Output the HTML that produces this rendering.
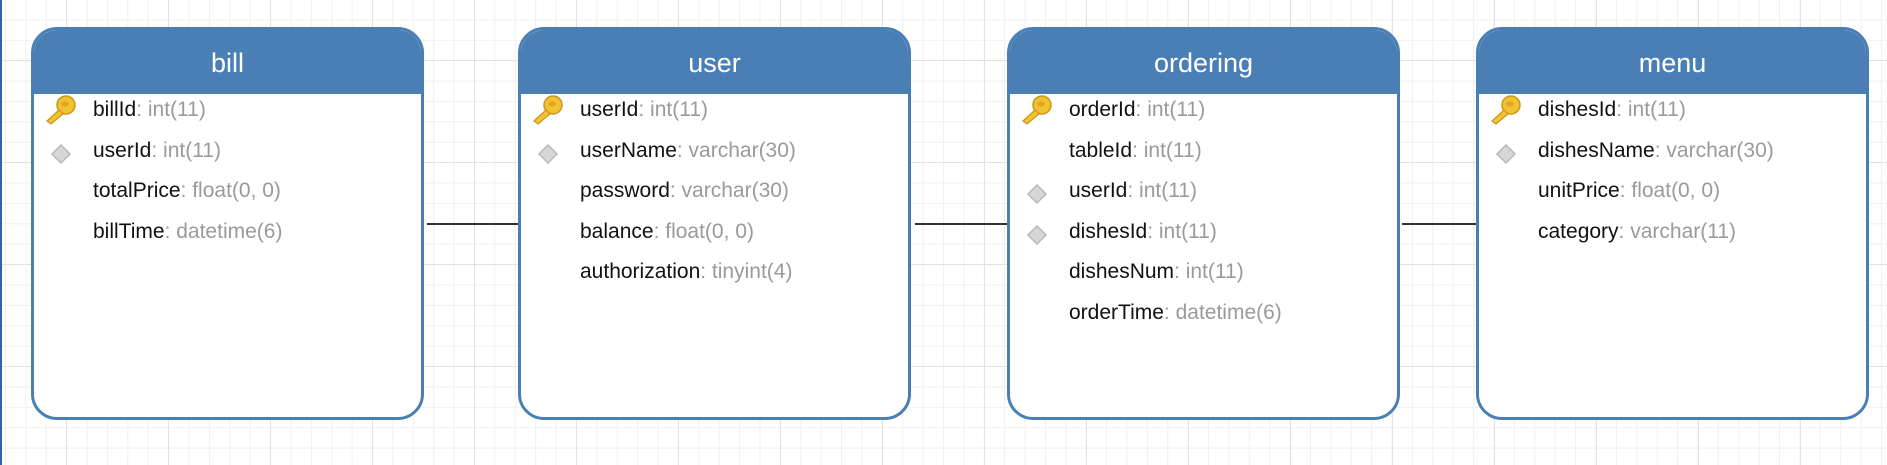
<!DOCTYPE html>
<html><head><meta charset="utf-8"><style>
html,body{margin:0;padding:0}
body{width:1887px;height:465px;position:relative;overflow:hidden;background-color:#fff;
background-image:
linear-gradient(to right,#e2e2e2 1px,transparent 1px),
linear-gradient(to bottom,#e2e2e2 1px,transparent 1px),
linear-gradient(to right,#f0f0f0 1px,transparent 1px),
linear-gradient(to bottom,#f0f0f0 1px,transparent 1px);
background-size:102px 102px,102px 102px,20.4px 20.4px,20.4px 20.4px;
background-position:66px 0,0 60px,5px 0,0 -1px;
font-family:"Liberation Sans","DejaVu Sans",sans-serif;}
.lb{position:absolute;left:0;top:0;width:2px;height:465px;background:#2f62a8}
.box{position:absolute;top:27px;width:387px;height:387px;border:3px solid #4a7fb6;border-radius:26px;background:#fff;overflow:hidden}
.hd{height:64px;background:#4a7fb6;color:#fff;font-size:27px;text-align:center;line-height:66px}
.row{position:absolute;left:59px;font-size:21px;color:#111;height:30px;line-height:30px;white-space:nowrap}
.row span{color:#9a9a9a}
.ic{position:absolute;left:10px}
.ln{position:absolute;top:223px;height:2px;background:#333}
</style></head><body>
<div class="lb"></div>
<div class="ln" style="left:427px;width:94px"></div>
<div class="ln" style="left:915px;width:93px"></div>
<div class="ln" style="left:1402px;width:76px"></div>

<svg width="0" height="0" style="position:absolute"><defs>
<g id="key"><circle cx="22" cy="10" r="9" fill="#f2c232" stroke="#c9971a" stroke-width="1.5"/><ellipse cx="21" cy="9" rx="4" ry="2.5" fill="#e0a820"/><path d="M15 15 L3 26 L7 29 L19 19 Z" fill="#f2c232" stroke="#c9971a" stroke-width="1.2"/></g>
<g id="dia"><path d="M11 1 L20 10 L11 19 L2 10 Z" fill="#d6d6d6" stroke="#b8b8b8" stroke-width="1.5"/></g>
</defs></svg>

<div class="box" style="left:31px">
<div class="hd">bill</div>
<svg class="ic" style="top:65px" width="32" height="32"><use href="#key"/></svg>
<svg class="ic" style="left:16px;top:114px" width="24" height="22"><use href="#dia"/></svg>
<div class="row" style="top:65px">billId<span>: int(11)</span></div>
<div class="row" style="top:106px">userId<span>: int(11)</span></div>
<div class="row" style="top:146px">totalPrice<span>: float(0, 0)</span></div>
<div class="row" style="top:187px">billTime<span>: datetime(6)</span></div>
</div>

<div class="box" style="left:518px">
<div class="hd">user</div>
<svg class="ic" style="top:65px" width="32" height="32"><use href="#key"/></svg>
<svg class="ic" style="left:16px;top:114px" width="24" height="22"><use href="#dia"/></svg>
<div class="row" style="top:65px">userId<span>: int(11)</span></div>
<div class="row" style="top:106px">userName<span>: varchar(30)</span></div>
<div class="row" style="top:146px">password<span>: varchar(30)</span></div>
<div class="row" style="top:187px">balance<span>: float(0, 0)</span></div>
<div class="row" style="top:227px">authorization<span>: tinyint(4)</span></div>
</div>

<div class="box" style="left:1007px">
<div class="hd">ordering</div>
<svg class="ic" style="top:65px" width="32" height="32"><use href="#key"/></svg>
<svg class="ic" style="left:16px;top:154px" width="24" height="22"><use href="#dia"/></svg>
<svg class="ic" style="left:16px;top:195px" width="24" height="22"><use href="#dia"/></svg>
<div class="row" style="top:65px">orderId<span>: int(11)</span></div>
<div class="row" style="top:106px">tableId<span>: int(11)</span></div>
<div class="row" style="top:146px">userId<span>: int(11)</span></div>
<div class="row" style="top:187px">dishesId<span>: int(11)</span></div>
<div class="row" style="top:227px">dishesNum<span>: int(11)</span></div>
<div class="row" style="top:268px">orderTime<span>: datetime(6)</span></div>
</div>

<div class="box" style="left:1476px">
<div class="hd">menu</div>
<svg class="ic" style="top:65px" width="32" height="32"><use href="#key"/></svg>
<svg class="ic" style="left:16px;top:114px" width="24" height="22"><use href="#dia"/></svg>
<div class="row" style="top:65px">dishesId<span>: int(11)</span></div>
<div class="row" style="top:106px">dishesName<span>: varchar(30)</span></div>
<div class="row" style="top:146px">unitPrice<span>: float(0, 0)</span></div>
<div class="row" style="top:187px">category<span>: varchar(11)</span></div>
</div>
</body></html>
